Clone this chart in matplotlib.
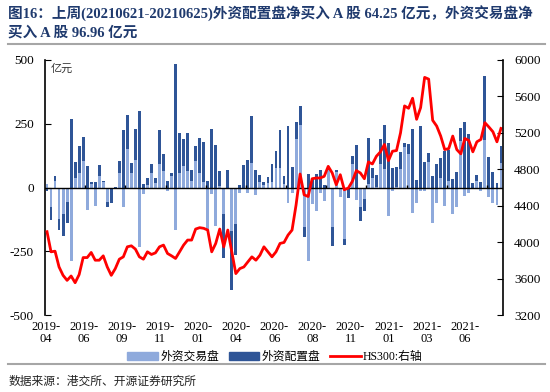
import numpy as np
import matplotlib.pyplot as plt
from matplotlib.lines import Line2D
from matplotlib.patches import Patch

plt.rcParams['font.family'] = ['Liberation Serif', 'Noto Sans CJK SC', 'DejaVu Sans']

# weekly net buying (100m yuan), 2019-04 .. 2021-06
trade = [15, -78, 26, -124, -104, -58, -286, 39, 58, 104, -88, 13, -72, 45, 20, -55, -5, -5, 58,
         -78, 152, 58, 110, -234, -26, 10, 56, 17, 91, 65, -13, 46, -165, 58, 85, 65, 26, 104,
         58, 20, -169, -26, -150, 5, -104, -5, -169, -143, -23, -5, -20, 98, -29, 20, 10, 16, 20,
         78, 78, 13, -62, -20, 189, 244, -156, -286, -65, -91, -20, -52, 70, -153, 60, -36, -200, -5,
         91, -49, -78, -46, 13, 39, 3, 91, 72, -111, -13, 3, 72, 160, 130, -101, -62, -13, -15,
         100, -137, -61, 39, -72, 26, -104, -78, 182, -33, -23, -5, 26, -13, 186, -36, -62, -69, 96.96]
alloc = [-13, -48, 20, -42, -85, -82, 267, 61, 104, 95, 85, 10, 20, 45, 6, -20, -55, 3, 45,
         224, 134, 39, 121, 299, 13, 29, 35, 20, 133, 68, 26, 10, 484, 156, 104, 150, 42, 58,
         137, 159, 26, 231, 166, 60, -172, 68, -231, -120, 10, 90, 107, 181, 68, 30, 10, 26, 72,
         65, 146, 33, 240, 80, 69, 74, -36, 55, 39, 55, 69, 10, 5, -77, 10, 0, -26, -35,
         33, 166, -52, -46, 180, 39, 47, 98, 173, 174, 78, 78, 69, 15, 42, 228, 29, 240, 100,
         34, 46, 94, 78, 143, 120, 35, 62, 52, 257, 208, 16, 23, 23, 253, 121, 62, 16, 64.25]
hs300 = [4116, 3895, 3902, 3729, 3637, 3582, 3630, 3556, 3645, 3832, 3832, 3888, 3803, 3803, 3851, 3729, 3637, 3711, 3814,
         3840, 3950, 3961, 3925, 3840, 3814, 3895, 3866, 3884, 3950, 3969, 3877, 3851, 3822, 3895, 3969, 4024, 4024, 4145,
         4160, 4153, 4134, 3895, 3987, 4145, 3950, 4134, 3895, 3656, 3711, 3729, 3785, 3840, 3803, 3858, 3950, 3895, 3840,
         3895, 3987, 3998, 4079, 4134, 4410, 4749, 4521, 4502, 4697, 4705, 4705, 4723, 4833, 4760, 4631, 4741, 4576, 4594,
         4668, 4786, 4760, 4697, 4881, 4859, 4944, 4992, 5073, 4896, 4999, 5006, 5201, 5496, 5470, 5580, 5349, 5477, 5809,
         5790, 5338, 5275, 5165, 5017, 5028, 5165, 5017, 4970, 5139, 5117, 4992, 5102, 5128, 5312, 5264, 5212, 5102, 5249]
tick_labels = ['2019-\n04', '2019-\n06', '2019-\n09', '2019-\n11', '2020-\n01', '2020-\n04',
               '2020-\n06', '2020-\n08', '2020-\n11', '2021-\n01', '2021-\n03', '2021-\n06']

trade = np.array(trade)
alloc = np.array(alloc)
x = np.arange(len(trade))

light = '#8FAADC'
dark = '#2F5597'

fig = plt.figure(figsize=(5.5, 3.92), dpi=100)
ax = fig.add_axes([0.0818, 0.196, 0.8327, 0.651])

# stacked like excel: positives stack up, negatives stack down
base = np.where(np.sign(alloc) == np.sign(trade), trade, 0)
ax.bar(x, trade, width=0.72, color=light, zorder=2)
ax.bar(x, alloc, bottom=base, width=0.72, color=dark, zorder=2)
ax.axhline(0, color='black', lw=1, zorder=3)
ax.vlines(np.arange(9.5, len(x), 10), 0, 10, color='black', lw=1, zorder=3)

ax.set_xlim(-0.5, len(x) - 0.5)
ax.set_ylim(-500, 500)
ax.set_yticks([500, 250, 0, -250, -500])
ax.set_yticklabels(['500', '250', '0', '-250', '-500'])
ax.set_xticks(np.arange(12) * 9.48 - 0.3)
ax.set_xticklabels(tick_labels, fontsize=9, linespacing=1.0)
ax.tick_params(axis='x', length=0, pad=4)
ax.tick_params(axis='y', direction='in', length=4, labelsize=9.5, pad=8)
for s in ['top', 'right', 'bottom']:
    ax.spines[s].set_visible(False)
ax.spines['left'].set_linewidth(1.2)
ax.text(0.012, 0.985, '亿元', transform=ax.transAxes, fontsize=8,
        family=['Noto Sans CJK SC'], va='top', ha='left', color='#333333')

ax2 = ax.twinx()
ax2.plot(x, hs300, color='#FF0000', lw=2)
ax2.set_ylim(3200, 6000)
ax2.set_yticks(np.arange(3200, 6001, 400))
ax2.tick_params(axis='y', direction='in', length=4, labelsize=9.5, pad=8)
for s in ['top', 'left', 'bottom']:
    ax2.spines[s].set_visible(False)
ax2.spines['right'].set_linewidth(1.2)

handles = [Patch(color=light), Patch(color=dark), Line2D([], [], color='#FF0000', lw=2)]
fig.legend(handles, ['外资交易盘', '外资配置盘', 'HS300:右轴'], loc='center',
           bbox_to_anchor=(0.5, 1 - 357 / 392), ncol=3, frameon=False,
           prop={'family': ['Liberation Serif', 'Noto Sans CJK SC'], 'size': 8.5},
           handlelength=2.6, handleheight=0.6, columnspacing=0.8, handletextpad=0.2)

title_kw = dict(fontsize=10.5, fontweight='bold', color='#1F3A6E',
                family=['Liberation Serif', 'Noto Sans CJK SC'], ha='left', va='center')
fig.text(0.015, 1 - 14 / 392, '图16：上周(20210621-20210625)外资配置盘净买入 A 股 64.25 亿元，外资交易盘净', **title_kw)
fig.text(0.015, 1 - 33 / 392, '买入 A 股 96.96 亿元', **title_kw)
fig.add_artist(Line2D([0.015, 0.99], [1 - 44 / 392] * 2, color='#A6A6A6', lw=1.5))
fig.add_artist(Line2D([0.015, 0.99], [1 - 364 / 392] * 2, color='#A6A6A6', lw=1.5))
fig.text(0.015, 1 - 381 / 392, '数据来源：港交所、开源证券研究所', fontsize=8.5,
         family=['Noto Sans CJK SC'], ha='left', va='center', color='#222222')

fig.savefig('out.png', dpi=100)
